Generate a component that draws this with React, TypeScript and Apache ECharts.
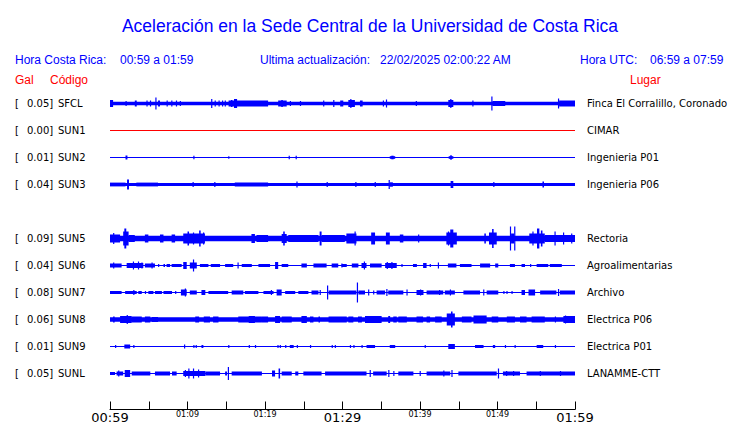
import React, { useEffect, useRef } from "react";
import * as echarts from "echarts";

// ---- Labels / categories ----
const titleText = "Aceleración en la Sede Central de la Universidad de Costa Rica";
const localRange = "00:59 a 01:59";
const utcRange = "06:59 a 07:59";
const lastUpdate = "22/02/2025 02:00:22 AM";
const startHour = 0;
const startMinute = 59;

const stationCodes = ["SFCL", "SUN1", "SUN2", "SUN3", "SUN4", "SUN5", "SUN6", "SUN7", "SUN8", "SUN9", "SUNL"];
const galValues: (string | null)[] = ["0.05", "0.00", "0.01", "0.04", null, "0.09", "0.04", "0.08", "0.06", "0.01", "0.05"];
const places = [
  "Finca El Corralillo, Coronado", "CIMAR", "Ingenieria P01", "Ingenieria P06", "",
  "Rectoria", "Agroalimentarias", "Archivo", "Electrica P06", "Electrica P01", "LANAMME-CTT",
];
const hasTrace = [true, true, true, true, false, true, true, true, true, true, true];
const traceColors = ["#0000ff", "#ff0000", "#0000ff", "#0000ff", "#0000ff", "#0000ff", "#0000ff", "#0000ff", "#0000ff", "#0000ff", "#0000ff"];

// ---- Trace envelopes: [startMinute, endMinute, halfAmplitude] (relative units) ----
const sfcl = [
  [0, 60, 1.8], [0, 0.4, 3.5], [2.0, 2.15, 2.5], [3.2, 3.45, 3], [4.7, 4.85, 3], [5.15, 5.3, 3], [5.85, 6.0, 6],
  [6.2, 6.45, 3], [7.3, 7.45, 3], [7.9, 8.0, 3], [8.5, 8.6, 3], [9.0, 9.1, 2.5], [13.05, 13.2, 4.5],
  [13.5, 13.6, 3], [14.0, 14.1, 3], [14.45, 14.55, 3], [14.8, 14.9, 3], [15.3, 20.4, 3], [15.6, 15.8, 3.5],
  [16.0, 16.4, 4.5], [21.7, 22.8, 3], [22.1, 22.3, 3.5], [23.2, 23.3, 2.5], [24.5, 24.6, 2.5], [27.5, 27.65, 3],
  [28.8, 28.95, 3.5], [29.7, 30.1, 3], [30.75, 31.6, 3.5], [31.0, 31.15, 4.5], [32.25, 32.6, 3], [35.2, 35.3, 3],
  [35.6, 35.7, 4], [39.45, 39.55, 2.5], [43.65, 44.3, 3.5], [43.9, 44.0, 4.5], [46.75, 46.9, 3], [49.2, 49.35, 7],
  [49.35, 51.0, 2.5], [57.8, 57.95, 5], [57.95, 60, 3],
];
const sun1: number[][] = [];
const sun2 = [
  [2.0, 2.25, 2], [10.75, 10.85, 1.8], [15.25, 15.35, 1.2], [23.05, 23.15, 1.8], [23.95, 24.05, 1.8],
  [36.1, 36.8, 1.3], [36.3, 36.6, 1.8], [43.7, 44.3, 1.3], [43.9, 44.1, 2.2],
];
const sun3 = [
  [0, 60, 1.6], [0, 2.0, 1.9], [2.2, 2.45, 5], [3.4, 6.2, 1.9], [10.65, 10.8, 2.5], [13.45, 13.6, 2.5], [16.1, 20.4, 1.9],
  [24.05, 24.2, 3], [27.95, 28.1, 2.5], [31.65, 31.8, 2.5], [34.15, 34.3, 2.5], [35.95, 36.1, 4.5], [36.1, 36.5, 2.2],
  [43.95, 44.3, 3.5], [49.45, 49.6, 2.5], [55.8, 56.0, 3],
];
const sun4: number[][] = [];
const sun5 = [
  [0, 60, 2.8], [0, 1.3, 4], [0.4, 0.5, 5.5], [1.7, 2.4, 7], [1.85, 2.1, 10], [2.4, 3.2, 3.5], [4.5, 4.95, 4],
  [6.45, 6.9, 4], [7.95, 8.4, 4], [9.45, 12.25, 5], [10.0, 10.2, 7], [10.7, 10.8, 6], [11.5, 11.7, 8], [12.0, 12.1, 6],
  [18.25, 18.7, 4.5], [18.9, 20.4, 3.5], [22.15, 22.8, 4.5], [22.35, 22.55, 7], [23.0, 26.9, 3.5], [27.05, 27.3, 7],
  [27.3, 30.3, 3.5], [30.5, 31.8, 5], [31.55, 31.7, 7], [33.7, 34.2, 6], [35.6, 36.1, 6], [37.4, 37.85, 4],
  [39.75, 39.85, 4], [43.4, 44.75, 6], [43.6, 43.7, 7], [43.9, 44.3, 9], [48.3, 48.5, 5], [48.9, 49.9, 6],
  [49.3, 49.5, 9.5], [51.6, 51.75, 12], [51.75, 52.15, 5], [52.15, 52.3, 12], [54.1, 56.1, 5], [54.5, 54.6, 7],
  [55.1, 55.4, 10], [55.6, 55.8, 8], [56.1, 60, 3.5], [57.35, 57.5, 7], [58.45, 58.6, 6], [59.5, 59.65, 5],
];
const sun6 = [
  [0, 1.5, 2], [0.4, 0.5, 3], [2.15, 4.3, 2.5], [2.95, 3.05, 4], [3.6, 3.7, 4], [4.05, 4.15, 3], [4.5, 5.8, 2],
  [5.35, 5.45, 3], [6.2, 6.3, 1.5], [6.9, 7.1, 1.5], [7.3, 7.75, 1.5], [7.95, 9.25, 1.5], [9.45, 9.9, 3.5],
  [10.3, 11.2, 3], [10.7, 10.8, 6], [11.6, 12.7, 1.5], [13.0, 14.2, 1.5], [14.85, 15.9, 1.5], [16.45, 16.55, 3],
  [17.0, 18.3, 1.5], [19.15, 20.65, 1.5], [21.3, 21.7, 3.5], [22.15, 23.0, 1.5], [24.7, 25.4, 2], [26.25, 27.95, 2],
  [28.6, 29.45, 2], [29.85, 29.95, 2], [29.9, 30.55, 1.5], [31.2, 32.05, 2], [32.45, 33.1, 2.5], [32.75, 32.85, 4],
  [33.55, 35.05, 2], [35.5, 37.0, 2.5], [35.7, 35.8, 3.5], [36.3, 36.4, 3.5], [37.6, 37.7, 1.5], [39.1, 39.6, 1.5],
  [40.4, 40.85, 2.5], [41.25, 41.35, 1.5], [42.3, 42.4, 3], [43.6, 44.7, 2], [45.15, 46.65, 1.5], [47.75, 49.05, 2],
  [49.7, 50.1, 2], [51.6, 52.25, 1.5], [53.1, 53.55, 1.5], [54.2, 54.3, 1.5], [55.05, 56.55, 1.5], [56.75, 58.3, 1.5],
];
const sun7 = [
  [0, 1.5, 1.5], [1.95, 3.45, 1.5], [3.0, 3.1, 2.5], [3.65, 4.1, 1.5], [4.5, 4.6, 1.5], [4.95, 5.6, 1.5],
  [5.8, 6.7, 1.5], [6.9, 8.0, 1.5], [8.4, 8.5, 1.5], [9.15, 9.9, 3], [9.65, 9.75, 4], [10.3, 11.2, 2],
  [11.8, 12.3, 2.5], [12.7, 15.25, 1.5], [15.7, 17.2, 2], [17.4, 19.15, 1.5], [19.8, 21.1, 1.5], [20.75, 20.85, 2.5],
  [21.5, 22.15, 3], [22.6, 23.9, 1.5], [24.3, 25.6, 1.5], [26.0, 26.9, 2], [27.05, 27.15, 2.5], [28.0, 28.15, 7],
  [28.2, 31.8, 2], [31.85, 32.0, 10], [32.05, 32.9, 2], [33.3, 33.4, 3], [33.95, 34.05, 2], [34.4, 35.5, 2],
  [35.65, 35.75, 3.5], [35.9, 37.85, 2], [38.25, 38.35, 3], [39.55, 40.45, 2.5], [40.0, 40.1, 3], [40.85, 43.0, 2],
  [42.45, 42.55, 2.5], [43.2, 44.5, 2], [43.85, 43.95, 3], [45.6, 47.75, 2], [48.15, 48.25, 3], [48.6, 50.1, 2],
  [50.75, 50.85, 1.5], [51.15, 51.25, 1.5], [51.8, 51.9, 1.5], [53.1, 53.55, 2.5], [54.0, 54.85, 3], [55.5, 57.6, 2],
  [57.8, 57.95, 3.5], [58.05, 60, 2],
];
const sun8 = [
  [0, 60, 2.2], [0.4, 0.6, 3], [1.3, 2.8, 3.5], [2.15, 2.3, 4.5], [2.8, 4.1, 3], [4.5, 5.2, 3], [5.4, 6.2, 2.5],
  [11.0, 11.5, 3], [12.1, 12.9, 3], [13.3, 14.0, 3], [16.55, 19.6, 3], [17.9, 18.7, 3.5], [19.6, 20.4, 3],
  [21.3, 21.95, 3.5], [22.15, 23.45, 3], [24.7, 25.4, 3.5], [25.8, 26.25, 3], [26.9, 27.1, 3], [28.2, 30.55, 3],
  [30.75, 31.4, 3], [32.0, 32.5, 3], [32.9, 35.05, 3.5], [35.9, 36.15, 3.5], [36.55, 37.0, 3], [37.2, 38.3, 3],
  [39.55, 40.4, 3], [40.85, 41.3, 3], [41.95, 42.8, 3], [43.45, 44.5, 6], [44.0, 44.2, 8], [45.4, 46.65, 3],
  [46.9, 48.6, 4], [49.25, 50.1, 3], [51.2, 52.25, 3], [52.9, 53.75, 3], [54.4, 56.1, 3], [57.4, 57.5, 3],
  [58.5, 60, 3.5], [58.7, 58.8, 4],
];
const sun9 = [
  [0.65, 0.75, 1.5], [1.85, 2.6, 2], [3.0, 3.1, 1.5], [9.55, 9.65, 2], [10.75, 10.85, 1.5], [11.05, 11.15, 1.5],
  [11.8, 12.05, 1.5], [15.25, 15.35, 1.5], [17.9, 18.0, 1.5], [18.7, 18.8, 1.5], [21.6, 21.7, 1.5], [21.9, 22.0, 1.5],
  [22.6, 22.7, 1.5], [23.2, 23.7, 1.5], [24.1, 24.2, 1.5], [25.8, 25.9, 1.5], [28.6, 28.7, 1.5], [29.0, 29.1, 1.5],
  [30.95, 31.05, 1.5], [31.4, 31.5, 1.5], [32.45, 32.55, 1.5], [33.1, 34.2, 1.5], [36.1, 36.8, 1.5], [40.6, 40.7, 1.5],
  [43.65, 44.5, 2.5], [47.1, 48.2, 1.5], [49.4, 49.7, 1.5], [50.95, 51.05, 1.5], [52.2, 52.3, 1.5], [55.05, 55.9, 1.5],
  [57.4, 57.5, 1.5],
];
const sunl = [
  [0, 0.65, 1.5], [0.85, 1.7, 2], [1.05, 1.15, 3], [1.9, 2.6, 3.5], [2.8, 5.2, 2], [5.8, 7.75, 2], [8.0, 8.6, 2],
  [9.45, 12.3, 2.5], [9.65, 9.75, 3.5], [10.1, 10.2, 5], [10.7, 10.8, 5], [11.35, 11.45, 4], [12.3, 14.2, 2],
  [14.85, 15.1, 2], [15.2, 15.35, 6.5], [15.7, 19.6, 2], [20.9, 21.3, 3], [21.75, 21.95, 5], [22.15, 23.45, 2],
  [23.9, 24.3, 2], [24.95, 27.3, 2], [27.75, 33.1, 2], [33.5, 33.6, 3.5], [33.95, 35.7, 2], [35.9, 36.0, 3.5],
  [36.55, 36.65, 2.5], [37.2, 39.15, 2], [39.95, 40.05, 2.5], [40.85, 43.9, 2], [43.0, 43.1, 3], [44.05, 44.15, 3.5],
  [44.95, 49.9, 2], [50.05, 50.2, 5], [50.7, 52.9, 2], [51.1, 51.2, 2.5], [52.0, 52.1, 2.5], [53.75, 60, 2],
  [55.45, 55.55, 2.5], [58.05, 58.15, 2.5],
];
const traces = [sfcl, sun1, sun2, sun3, sun4, sun5, sun6, sun7, sun8, sun9, sunl];
const windowMinutes = 60;

const AMP_TO_ROW = 1 / 27;
const SANS = "'Liberation Sans', Arial, sans-serif";
const DEJAVU = "'DejaVu Sans', sans-serif";

function timeLabel(v: number): string {
  const total = startHour * 60 + startMinute + v;
  const h = Math.floor(total / 60) % 24;
  const m = total % 60;
  return `${String(h).padStart(2, "0")}:${String(m).padStart(2, "0")}`;
}

export default function App() {
  const ref = useRef<HTMLDivElement>(null);
  useEffect(() => {
    if (!ref.current) return;
    const chart = echarts.init(ref.current, null, { renderer: "svg" });

    const series: any[] = [];
    stationCodes.forEach((code, row) => {
      if (!hasTrace[row]) return;
      const color = traceColors[row];
      series.push({
        type: "line",
        name: code + "-base",
        xAxisIndex: 0,
        yAxisIndex: 0,
        data: [[0, row], [windowMinutes, row]],
        symbol: "none",
        lineStyle: { color, width: 1 },
        silent: true,
      });
      if (traces[row].length) {
        series.push({
          type: "custom",
          name: code,
          xAxisIndex: 0,
          yAxisIndex: 0,
          data: traces[row].map((e) => [e[0], e[1], row, e[2]]),
          encode: { x: [0, 1], y: 2 },
          silent: true,
          renderItem: (_p: any, api: any) => {
            const t0 = api.value(0);
            const t1 = api.value(1);
            const r = api.value(2);
            const a = api.value(3) * AMP_TO_ROW;
            const p0 = api.coord([t0, r - a]);
            const p1 = api.coord([t1, r + a]);
            const w = Math.max(p1[0] - p0[0], 1.2);
            return {
              type: "rect",
              shape: { x: p0[0], y: Math.min(p0[1], p1[1]), width: w, height: Math.abs(p1[1] - p0[1]) },
              style: { fill: color },
            };
          },
        });
      }
    });

    const txt = (text: string, x: number, y: number, fill: string, font: string) => ({
      type: "text",
      style: { text, x, y, fill, font, textVerticalAlign: "middle" },
    });

    chart.setOption({
      animation: false,
      backgroundColor: "#ffffff",
      title: {
        text: titleText,
        left: "center",
        top: 12,
        textStyle: { color: "#0000ff", fontSize: 17.5, fontWeight: "normal", fontFamily: SANS },
      },
      graphic: [
        txt("Hora Costa Rica:", 15, 60, "#0000ff", `12px ${SANS}`),
        txt(localRange, 120, 60, "#0000ff", `12px ${SANS}`),
        txt("Ultima actualización:", 260, 60, "#0000ff", `12px ${SANS}`),
        txt(lastUpdate, 380, 60, "#0000ff", `12px ${SANS}`),
        txt("Hora UTC:", 580, 60, "#0000ff", `12px ${SANS}`),
        txt(utcRange, 650, 60, "#0000ff", `12px ${SANS}`),
        txt("Gal", 15, 80, "#ff0000", `12px ${SANS}`),
        txt("Código", 50, 80, "#ff0000", `12px ${SANS}`),
        txt("Lugar", 630, 80, "#ff0000", `12px ${SANS}`),
      ],
      grid: { left: 110, right: 165, top: 90, bottom: 36, containLabel: false, outerBoundsMode: "none" },
      xAxis: {
        type: "value",
        min: 0,
        max: windowMinutes,
        interval: 5,
        position: "bottom",
        offset: 22.5,
        splitLine: { show: false },
        axisLine: { onZero: false, lineStyle: { color: "#000", width: 1 } },
        axisTick: { inside: true, length: 8, lineStyle: { color: "#000", width: 1 } },
        axisLabel: {
          margin: 0,
          color: "#000",
          fontFamily: DEJAVU,
          hideOverlap: false,
          formatter: (v: number) => {
            if (v % 30 === 0) return `{big|${timeLabel(v)}}`;
            if (v % 10 === 0) return `{small|${timeLabel(v)}}`;
            return "";
          },
          rich: {
            big: { fontSize: 13, lineHeight: 15, fontWeight: "normal", fontFamily: DEJAVU, color: "#000" },
            small: { fontSize: 8, lineHeight: 9, fontWeight: "normal", fontFamily: DEJAVU, color: "#000" },
          },
        },
      },
      yAxis: [
        { type: "value", min: -0.5, max: stationCodes.length - 0.5, inverse: true, show: false },
        {
          type: "category",
          data: stationCodes,
          inverse: true,
          position: "left",
          axisLine: { show: false },
          axisTick: { show: false },
          splitLine: { show: false },
          axisLabel: {
            align: "left",
            margin: 95,
            color: "#000",
            fontSize: 10,
            fontFamily: DEJAVU,
            formatter: (code: string, i: number) =>
              galValues[i] == null ? "" : `{br|[}{v|${galValues[i]}]}{c|${code}}`,
            rich: {
              br: { width: 12, fontSize: 10, fontFamily: DEJAVU, color: "#000" },
              v: { width: 31, fontSize: 10, fontFamily: DEJAVU, color: "#000" },
              c: { fontSize: 10, fontFamily: DEJAVU, color: "#000" },
            },
          },
        },
        {
          type: "category",
          data: places,
          inverse: true,
          position: "right",
          axisLine: { show: false },
          axisTick: { show: false },
          splitLine: { show: false },
          axisLabel: { margin: 12, color: "#000", fontSize: 10, fontFamily: DEJAVU },
        },
      ],
      series,
    });
    return () => chart.dispose();
  }, []);
  return <div ref={ref} style={{ width: 740, height: 423, position: "absolute", left: 0, top: 0 }} />;
}
